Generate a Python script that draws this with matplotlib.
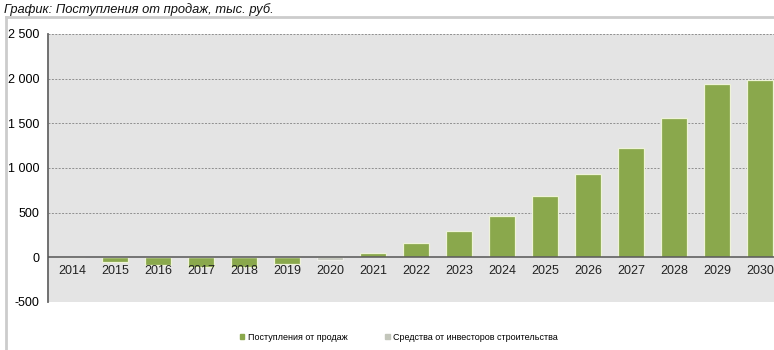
import matplotlib.pyplot as plt
from matplotlib.lines import Line2D
from matplotlib.patches import Patch
import numpy as np

plt.rcParams['font.family'] = ['Liberation Sans', 'DejaVu Sans']

# Revenue from sales by year, thousand rubles
years = [str(y) for y in range(2014, 2031)]
sales = [0, -55, -82, -105, -105, -80, 0, 45, 164, 299, 467, 687, 937, 1229, 1560, 1936, 1981]
investors = [0, 0, 0, 0, 0, 0, -25, 0, 0, 0, 0, 0, 0, 0, 0, 0, 0]

green = '#8aa84c'
grey = '#c3c6bb'

fig = plt.figure(figsize=(7.74, 3.5), dpi=100)
ax = fig.add_axes([48 / 774, 1 - 302 / 350, 1 - 48 / 774, 268 / 350])
ax.set_facecolor('#e4e4e4')

x = np.arange(len(years))
ax.bar(x, sales, 0.6, color=green, edgecolor='#eef3d8', linewidth=0.9, zorder=3,
       label='Поступления от продаж')
ax.bar(x, investors, 0.6, color=grey, edgecolor='#eeeeea', linewidth=0.9, zorder=3,
       label='Средства от инвесторов строительства')

ax.set_xlim(-0.558, 16.33)
ax.set_ylim(-500, 2500)

yticks = np.arange(-500, 2501, 500)
ax.set_yticks(yticks)
ax.set_yticklabels([f'{v:,}'.replace(',', ' ') for v in yticks], fontsize=9)
ax.tick_params(axis='y', length=0, pad=6)
for v in yticks:
    if v != 0:
        ax.axhline(v, color='#8f8f8f', linestyle=(0, (2, 1.5)), linewidth=0.7, zorder=1)
ax.axhline(0, color='#555555', linewidth=1.1, zorder=4)

# category labels sit just under the zero line
ax.set_xticks([])
for i, yr in enumerate(years):
    ax.annotate(yr, (i, 0), xytext=(0, -9.5), textcoords='offset points',
                ha='center', va='center', fontsize=9, color='#222222', zorder=5)

for s in ['top', 'right', 'bottom']:
    ax.spines[s].set_visible(False)
ax.spines['left'].set_color('#666666')
ax.spines['left'].set_linewidth(1.3)

# outer frame
fig.add_artist(Line2D([6 / 774, 1], [1 - 17 / 350] * 2, color='#cccccc', linewidth=2, zorder=0))
fig.add_artist(Line2D([6 / 774] * 2, [0, 1 - 17 / 350], color='#cccccc', linewidth=2, zorder=0))

fig.text(4 / 774, 1 - 10 / 350, 'График: Поступления от продаж, тыс. руб.',
         fontsize=9.3, style='italic', va='center', ha='left', color='#111111')

handles = [Patch(color=green), Patch(color=grey)]
fig.legend(handles, ['Поступления от продаж', 'Средства от инвесторов строительства'],
           loc='center', bbox_to_anchor=(399 / 774, 1 - 337 / 350), ncol=2, frameon=False,
           fontsize=6.5, handlelength=0.45, handleheight=0.45, handletextpad=0.4,
           columnspacing=4.2)

fig.savefig('out.png', dpi=100)
